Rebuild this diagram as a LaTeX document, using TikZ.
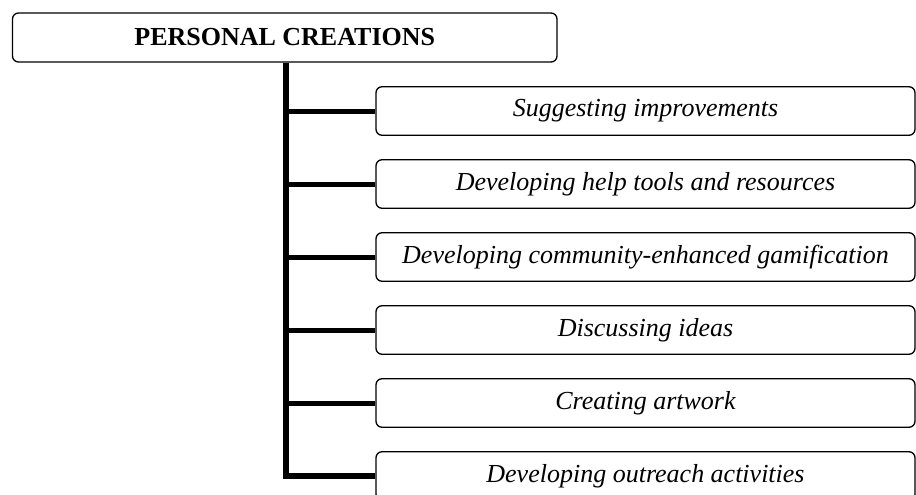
\documentclass[tikz,border=0pt]{standalone}
\usepackage{fontspec}
\setmainfont{Liberation Serif}
\begin{document}
\begin{tikzpicture}[x=1pt,y=-1pt,
  titlebox/.style={draw, line width=1.3pt, rounded corners=6pt, inner sep=0pt,
    minimum width=544.5pt, minimum height=49pt,
    font=\fontsize{26}{30}\selectfont\bfseries},
  subbox/.style={draw, line width=1.3pt, rounded corners=6pt, inner sep=0pt,
    minimum width=539pt, minimum height=48.5pt,
    font=\fontsize{26}{30}\selectfont\itshape},
  trunkline/.style={line width=6pt},
  branchline/.style={line width=5pt}]
\useasboundingbox (0,0) rectangle (916,495);
\node[titlebox] (top) at (284.75,37.5) {PERSONAL CREATIONS};
\node[subbox] (b1) at (645.5,111) {Suggesting improvements};
\node[subbox] (b2) at (645.5,184) {Developing help tools and resources};
\node[subbox] (b3) at (645.5,257) {Developing community-enhanced gamification};
\node[subbox] (b4) at (645.5,330) {Discussing ideas};
\node[subbox] (b5) at (645.5,403) {Creating artwork};
\node[subbox] (b6) at (645.5,476) {Developing outreach activities};
\coordinate (trx) at (285.5,0);
\draw[trunkline] (top.south -| trx) |- (b6.west);
\foreach \b in {b1,b2,b3,b4,b5}{
  \draw[branchline] (trx |- \b.west) -- (\b.west);
}
\end{tikzpicture}
\end{document}
